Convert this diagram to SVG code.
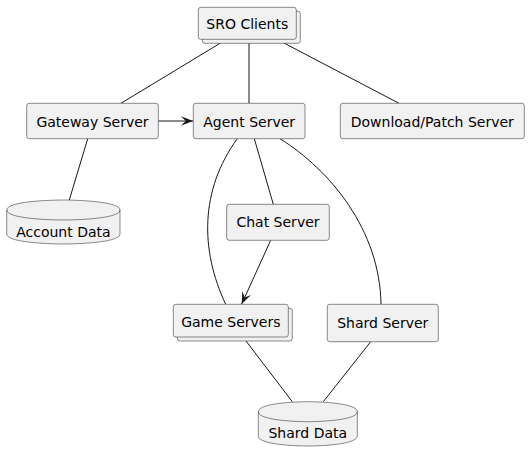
<svg xmlns="http://www.w3.org/2000/svg" width="529" height="462" viewBox="0 0 529 462">
<style>
.box{fill:#F1F1F1;stroke:#181818;stroke-width:0.5}
.lbl{font-family:"DejaVu Sans",sans-serif;font-size:14px;fill:#000;text-anchor:middle}
.edge{fill:none;stroke:#181818;stroke-width:1}
</style>
<defs>
<marker id="ah" markerUnits="userSpaceOnUse" markerWidth="12" markerHeight="10" viewBox="0 0 10 8" refX="10" refY="4" orient="auto">
<path d="M0,0 L10,4 L0,8 L4,4 Z" fill="#181818"/>
</marker>
</defs>
<rect width="529" height="462" fill="#FFFFFF"/>
<g id="connectors">
<line class="edge" x1="220" y1="43.3" x2="121" y2="103.3"/>
<line class="edge" x1="249" y1="43.3" x2="249" y2="103.3"/>
<line class="edge" x1="283.3" y1="42.7" x2="399" y2="103.3"/>
<line class="edge" x1="158.3" y1="121" x2="193" y2="121" marker-end="url(#ah)"/>
<line class="edge" x1="87.7" y1="138.7" x2="69.3" y2="200"/>
<line class="edge" x1="254.3" y1="138.7" x2="273.3" y2="204.3"/>
<path class="edge" d="M237.3,138.7 C200,190 200,250 225.7,304.3"/>
<path class="edge" d="M280,138.7 C330,170 380,230 381,304.3"/>
<line class="edge" x1="270.7" y1="240.3" x2="241.7" y2="304" marker-end="url(#ah)"/>
<line class="edge" x1="246" y1="341" x2="292.3" y2="401.7"/>
<line class="edge" x1="370.7" y1="341.7" x2="323.3" y2="401.7"/>
</g>
<g id="sro-clients">
<rect class="box" x="202.3" y="11.3" width="98" height="32" rx="2.5"/>
<rect class="box" x="198.3" y="7.3" width="98" height="32" rx="2.5"/>
<text class="lbl" x="247.3" y="28.5">SRO Clients</text>
</g>
<g id="gateway-server">
<rect class="box" x="26.7" y="103.3" width="131.6" height="35.4" rx="2.5"/>
<text class="lbl" x="92.5" y="126.5">Gateway Server</text>
</g>
<g id="agent-server">
<rect class="box" x="193.3" y="103.3" width="111.7" height="35.4" rx="2.5"/>
<text class="lbl" x="249.2" y="126.5">Agent Server</text>
</g>
<g id="download-patch-server">
<rect class="box" x="340.3" y="103.3" width="184" height="35.4" rx="2.5"/>
<text class="lbl" x="432.3" y="126.5">Download/Patch Server</text>
</g>
<g id="account-data">
<path class="box" d="M6.7,210 C6.7,200 63.4,200 63.4,200 C63.4,200 120,200 120,210 L120,234 C120,244 63.4,244 63.4,244 C63.4,244 6.7,244 6.7,234 Z"/>
<path class="box" style="fill:none" d="M6.7,210 C6.7,220 63.4,220 63.4,220 C63.4,220 120,220 120,210"/>
<text class="lbl" x="63.4" y="236.5">Account Data</text>
</g>
<g id="chat-server">
<rect class="box" x="226.7" y="204.3" width="102.6" height="36" rx="2.5"/>
<text class="lbl" x="278" y="226.7">Chat Server</text>
</g>
<g id="game-servers">
<rect class="box" x="177.3" y="308.3" width="115" height="32.7" rx="2.5"/>
<rect class="box" x="173.3" y="304.3" width="115" height="32.7" rx="2.5"/>
<text class="lbl" x="230.8" y="326.5">Game Servers</text>
</g>
<g id="shard-server">
<rect class="box" x="327.3" y="304.3" width="111" height="37.4" rx="2.5"/>
<text class="lbl" x="382.8" y="328.3">Shard Server</text>
</g>
<g id="shard-data">
<path class="box" d="M258.3,411.7 C258.3,401.7 307.8,401.7 307.8,401.7 C307.8,401.7 357.3,401.7 357.3,411.7 L357.3,436 C357.3,446 307.8,446 307.8,446 C307.8,446 258.3,446 258.3,436 Z"/>
<path class="box" style="fill:none" d="M258.3,411.7 C258.3,421.7 307.8,421.7 307.8,421.7 C307.8,421.7 357.3,421.7 357.3,411.7"/>
<text class="lbl" x="307.8" y="438.3">Shard Data</text>
</g>
</svg>
